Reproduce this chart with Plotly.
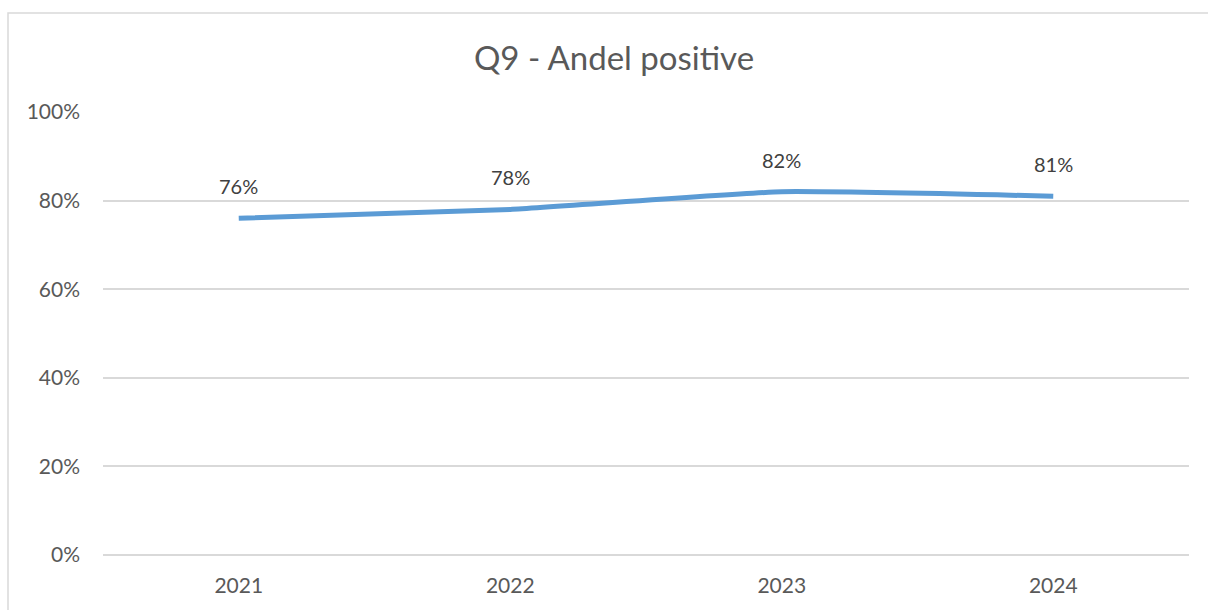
import plotly.graph_objects as go

years = ["2021", "2022", "2023", "2024"]
values = [0.76, 0.78, 0.82, 0.81]
labels = ["76%", "78%", "82%", "81%"]
y_ticks = [0, 0.2, 0.4, 0.6, 0.8, 1.0]
y_tick_labels = ["0%", "20%", "40%", "60%", "80%", "100%"]

FONT = "Lato, 'Open Sans', sans-serif"

fig = go.Figure()
fig.add_trace(go.Scatter(
    x=years, y=values, mode="lines",
    line=dict(color="#5B9BD5", width=5, shape="spline", smoothing=0.4),
    hoverinfo="skip", showlegend=False,
))

for i, (y, t) in enumerate(zip(values, labels)):
    fig.add_annotation(x=i, y=y, xref="x", yref="y", text=t, showarrow=False,
                       yshift=32, font=dict(family=FONT, size=20, color="#404040"))

W, H = 1208, 610
L, R, T, B = 103, 19, 112, 55
pw, ph = W - L - R, H - T - B

def px(xp):
    return (xp - L) / pw

def py(yp):
    return 1 - (yp - T) / ph

fig.add_shape(type="rect", xref="paper", yref="paper",
              x0=px(8), x1=px(1230), y0=py(13), y1=py(640),
              line=dict(color="#D9D9D9", width=1.5), fillcolor="rgba(0,0,0,0)",
              layer="below")

fig.update_layout(
    width=W, height=H,
    margin=dict(l=L, r=R, t=T, b=B),
    paper_bgcolor="white", plot_bgcolor="white",
    title=dict(text="Q9 - Andel positive", x=614 / W, xanchor="center",
               y=1 - 58 / H, yanchor="middle",
               font=dict(family=FONT, size=33, color="#595959")),
    xaxis=dict(type="category", range=[-0.5, 3.5], showgrid=False,
               showline=False, zeroline=False, ticks="", ticklabelstandoff=16,
               tickfont=dict(family=FONT, size=21, color="#595959")),
    yaxis=dict(range=[0, 1.0], tickvals=y_ticks, ticktext=y_tick_labels,
               showgrid=True, gridcolor="#D9D9D9", gridwidth=1.5,
               zeroline=True, zerolinecolor="#D9D9D9", zerolinewidth=1.5,
               showline=False, ticks="", ticklabelstandoff=22,
               tickfont=dict(family=FONT, size=21, color="#595959")),
)

fig.write_html("out.html", config={"displayModeBar": False},
               post_script="document.body.style.margin='0';document.body.style.overflow='hidden';")
